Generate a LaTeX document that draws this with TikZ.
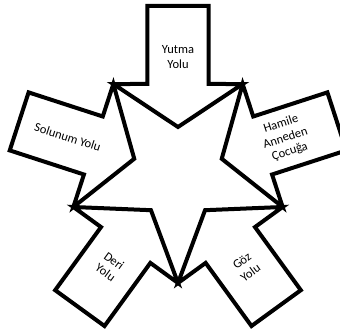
\documentclass[tikz,border=0pt]{standalone}
\usepackage{fontspec}
\setmainfont{Carlito}
\usepackage{tikz}

\begin{document}
\begin{tikzpicture}[x=1pt, y=1pt, line width=4pt,
  yolbox/.style={fill=white, draw=black, line join=miter},
  yoltext/.style={align=center, font=\fontsize{12.5}{14.5}\selectfont, inner sep=0pt}]
  \clip (-178,-158) rectangle (162,173);
  % five block arrows, their heads make the star
  \foreach \a in {90,162,234,306,18} {
    \draw[yolbox, rotate=\a-90] (0,46) -- (126:110) -- (-30.5,89) -- (-30.5,167)
      -- (30.5,167) -- (30.5,89) -- (54:110) -- cycle;
  }
  \node[yoltext] (yutma) at (90:116) {Yutma\\Yolu};
  \node[yoltext, rotate=-18] (solunum) at (162:116) {Solunum Yolu};
  \node[yoltext, rotate=18] (hamile) at (18:113) {Hamile\\Anneden\\Çocuğa};
  \node[yoltext, rotate=-36] (deri) at (234:116) {Deri\\Yolu};
  \node[yoltext, rotate=36] (goz) at (306:116) {Göz\\Yolu};
\end{tikzpicture}
\end{document}
